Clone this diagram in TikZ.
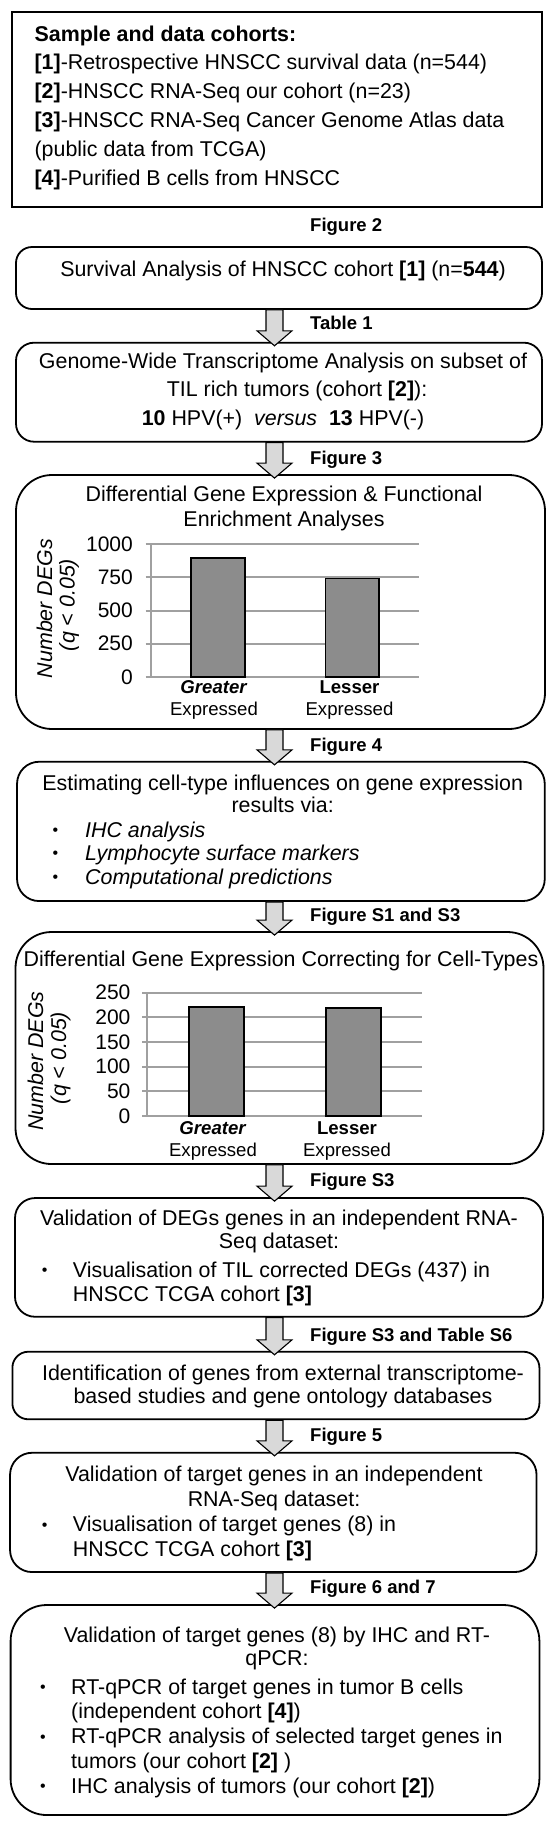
\documentclass[tikz,border=0pt]{standalone}
\usepackage{fontspec}
\setmainfont{Liberation Sans}
\usetikzlibrary{calc}
\newcommand\bulpt[1][32pt]{\makebox[#1][l]{\hspace{1pt}{\fontsize{16}{16}\selectfont\raisebox{1.6pt}{\textbullet}}}}
\newcommand\bulgap[1][32pt]{\makebox[#1]{}}

\begin{document}
\begin{tikzpicture}[
  x=1pt, y=-1pt,
  stage/.style={draw=black, line width=1.8pt, inner sep=0pt},
  txt/.style={anchor=base, inner sep=0pt, align=center, font=\fontsize{21.4}{#1}\selectfont},
  txt/.default=24.5,
  lst/.style={anchor=base west, inner sep=0pt, align=left, font=\fontsize{21.4}{#1}\selectfont},
  lst/.default=24.5,
  figlbl/.style={anchor=base west, inner sep=0pt, font=\fontsize{18.5}{20}\selectfont\bfseries},
  flow/.style={draw=black, line width=1.1pt, fill=FlowGray},
  gridln/.style={draw=GridGray, line width=2pt},
  bar/.style={draw=black, line width=1.6pt, fill=BarGray},
  tick/.style={anchor=east, inner sep=0pt, font=\fontsize{21}{22}\selectfont},
  cat/.style={anchor=base, inner sep=0pt, align=center, font=\fontsize{18.6}{21.7}\selectfont},
  ylab/.style={rotate=90, inner sep=0pt, font=\fontsize{21.4}{22}\selectfont\itshape},
]
\definecolor{FlowGray}{HTML}{D9D9D9}
\definecolor{GridGray}{HTML}{A0A0A0}
\definecolor{BarGray}{HTML}{8C8C8C}
\useasboundingbox (0,0) rectangle (550,1826);

% ---- stages ----
\node[stage, minimum width=530pt, minimum height=195pt] (b1) at (276.8,109.5) {};
\node[stage, rounded corners=16pt, minimum width=526pt, minimum height=62pt] (b2) at (279,278) {};
\node[stage, rounded corners=18pt, minimum width=526pt, minimum height=99pt] (b3) at (279,392.2) {};
\node[stage, rounded corners=36pt, minimum width=529pt, minimum height=254pt] (b4) at (280.5,602) {};
\node[stage, rounded corners=22pt, minimum width=527.7pt, minimum height=139.3pt] (b5) at (280.9,831.4) {};
\node[stage, rounded corners=36pt, minimum width=528pt, minimum height=232pt] (b6) at (279.5,1048) {};
\node[stage, rounded corners=20pt, minimum width=528pt, minimum height=118.7pt] (b7) at (279,1257.4) {};
\node[stage, rounded corners=16pt, minimum width=527pt, minimum height=67.6pt] (b8) at (275.9,1385.5) {};
\node[stage, rounded corners=22pt, minimum width=526.5pt, minimum height=119.3pt] (b9) at (273.3,1512.4) {};
\node[stage, rounded corners=36pt, minimum width=528.8pt, minimum height=210pt] (b10) at (275,1710) {};

% ---- block arrows between stages ----
\coordinate (ax) at (274.5,0);
\foreach \a/\b in {b2/b3,b3/b4,b4/b5,b5/b6,b6/b7,b7/b8,b8/b9,b9/b10}
  \draw[flow] let \p1=(ax |- \a.south), \p2=(ax |- \b.north) in
    (\x1-8.5pt,\y1) -- (\x1-8.5pt,\y2+11pt) -- (\x1-17.5pt,\y2+11pt) -- (\x1,\y2-4pt)
    -- (\x1+17.5pt,\y2+11pt) -- (\x1+8.5pt,\y2+11pt) -- (\x1+8.5pt,\y1) -- cycle;

% ---- figure / table labels ----
\node[figlbl] (fig2)  at (310,231.7)  {Figure 2};
\node[figlbl] (tab1)  at (310,329.3)  {Table 1};
\node[figlbl] (fig3)  at (310,464.3)  {Figure 3};
\node[figlbl] (fig4)  at (310,751.3)  {Figure 4};
\node[figlbl] (figs1) at (310,921.3)  {Figure S1 and S3};
\node[figlbl] (figs3) at (310,1186.3) {Figure S3};
\node[figlbl] (figs6) at (310,1341.3) {Figure S3 and Table S6};
\node[figlbl] (fig5)  at (310,1441.3) {Figure 5};
\node[figlbl] (fig67) at (310,1593)   {Figure 6 and 7};

% ---- stage texts (placed at the baseline of their last line) ----
\node[lst=28.8] (cohorts) at (34.4,185) {\textbf{Sample and data cohorts:}\\
  \textbf{[1]}-Retrospective HNSCC survival data (n=544)\\
  \textbf{[2]}-HNSCC RNA-Seq our cohort (n=23)\\
  \textbf{[3]}-HNSCC RNA-Seq Cancer Genome Atlas data\\
  (public data from TCGA)\\
  \textbf{[4]}-Purified B cells from HNSCC};
\node[txt] (survtxt) at (283,276.7) {Survival Analysis of HNSCC cohort \textbf{[1]} (n=\textbf{544})};
\node[txt=28.3] (gwtxt) at (283,425) {Genome-Wide Transcriptome Analysis on subset of\\
  \hspace*{28pt}TIL rich tumors (cohort \textbf{[2]}):\\
  \textbf{10} HPV(+)\ \ \textit{versus}\ \ \textbf{13} HPV(-)};
\node[txt=24.3] (degtitle) at (284,526) {Differential Gene Expression \& Functional\\Enrichment Analyses};
\node[txt=22.7] (esttitle) at (282.7,812.7) {Estimating cell-type influences on gene expression\\results via:};
\node[lst=23.5] (estlist) at (51.5,884) {\bulpt[33.5pt]\textit{IHC analysis}\\
  \bulpt[33.5pt]\textit{Lymphocyte surface markers}\\
  \bulpt[33.5pt]\textit{Computational predictions}};
\node[txt] (cortitle) at (281,966) {Differential Gene Expression Correcting for Cell-Types};
\node[txt=23.3] (valtitle) at (279,1248.3) {Validation of DEGs genes in an independent RNA-\\Seq dataset:};
\node[lst=24.4] (vallist) at (40.8,1301.7) {\bulpt Visualisation of TIL corrected DEGs (437) in\\
  \bulgap HNSCC TCGA cohort \textbf{[3]}};
\node[txt=23.3] (idtxt) at (283,1403.3) {Identification of genes from external transcriptome-\\based studies and gene ontology databases};
\node[txt=24.3] (tgtitle) at (274,1506) {Validation of target genes in an independent\\RNA-Seq dataset:};
\node[lst=25] (tglist) at (40.8,1556.7) {\bulpt Visualisation of target genes (8) in\\
  \bulgap HNSCC TCGA cohort \textbf{[3]}};
\node[txt=23] (ihctitle) at (277,1665) {Validation of target genes (8) by IHC and RT-\\qPCR:};
\node[lst=24.8] (ihclist) at (39,1793.2) {\bulpt RT-qPCR of target genes in tumor B cells\\
  \bulgap (independent cohort \textbf{[4]})\\
  \bulpt RT-qPCR analysis of selected target genes in\\
  \bulgap tumors (our cohort \textbf{[2]} )\\
  \bulpt IHC analysis of tumors (our cohort \textbf{[2]})};

% ---- chart: DEGs, all cells ----
\begin{scope}
  \foreach \v in {0,250,500,750,1000} {
    \draw[gridln] (145.5,{677-\v*0.133}) -- (418.7,{677-\v*0.133});
    \node[tick] (ya\v) at (133,{677-\v*0.133}) {\v};
  }
  \draw[gridln] (150.8,544) -- (150.8,677);
  \draw[bar] (191,677) rectangle (245,{677-895*0.133});
  \draw[bar] (325.4,677) rectangle (379,{677-742*0.133});
  \node[cat] (grA) at (214,715) {\textbf{\textit{Greater}}\\Expressed};
  \node[cat] (lsA) at (349.5,715) {\textbf{Lesser}\\Expressed};
  \node[ylab] (numA) at (44.4,608.5) {Number DEGs};
  \node[ylab] (qA) at (69.2,605) {(q < 0.05)};
\end{scope}

% ---- chart: DEGs corrected for cell-types ----
\begin{scope}
  \foreach \v in {0,50,100,150,200,250} {
    \draw[gridln] (142,{1116-\v*0.4934}) -- (421.6,{1116-\v*0.4934});
    \node[tick] (yb\v) at (130.6,{1116-\v*0.4934}) {\v};
  }
  \draw[gridln] (147.3,992.6) -- (147.3,1116);
  \draw[bar] (188.8,1116) rectangle (243.8,{1116-221*0.4934});
  \draw[bar] (325.8,1116) rectangle (380.8,{1116-219*0.4934});
  \node[cat] (grB) at (213,1156) {\textbf{\textit{Greater}}\\Expressed};
  \node[cat] (lsB) at (347,1156) {\textbf{Lesser}\\Expressed};
  \node[ylab] (numB) at (35.5,1061) {Number DEGs};
  \node[ylab] (qB) at (60.5,1058) {(q < 0.05)};
\end{scope}
\end{tikzpicture}
\end{document}
